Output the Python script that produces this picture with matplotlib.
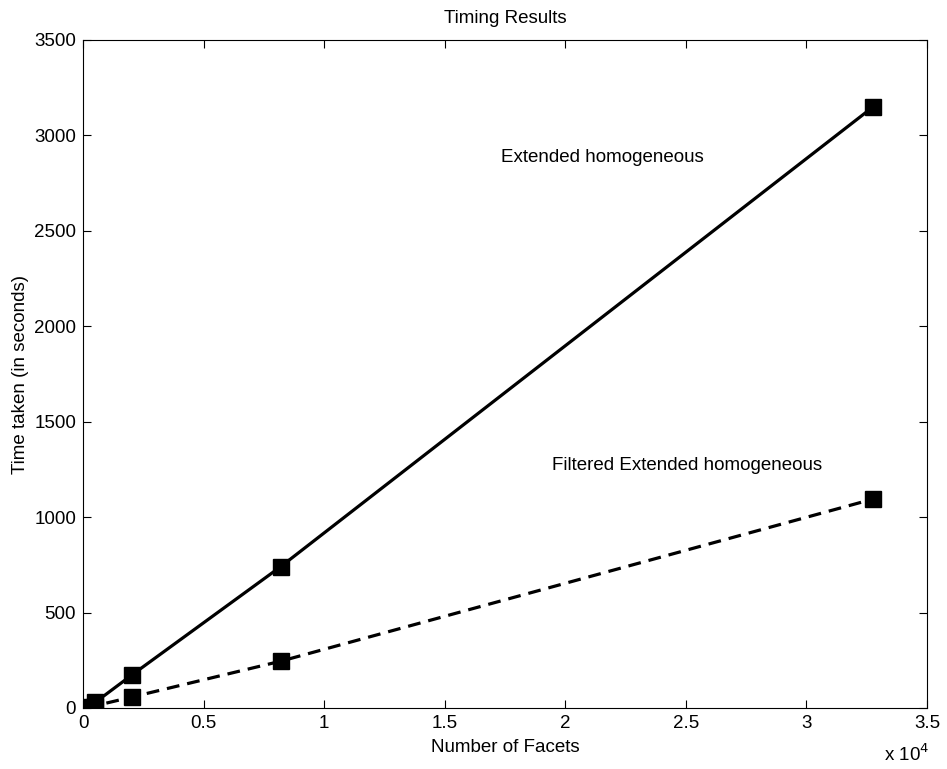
import matplotlib.pyplot as plt
import numpy as np

plt.rcParams['font.family'] = ['Liberation Sans', 'DejaVu Sans']
plt.rcParams['font.size'] = 13.5

# data
facets = [128, 512, 2048, 8192, 32768]
extended = [5, 30, 175, 740, 3150]
filtered = [2, 12, 58, 245, 1095]
xticks = [0, 5000, 10000, 15000, 20000, 25000, 30000, 35000]
xtick_labels = ['0', '0.5', '1', '1.5', '2', '2.5', '3', '3.5']
yticks = [0, 500, 1000, 1500, 2000, 2500, 3000, 3500]

fig = plt.figure(figsize=(9.47, 7.69), dpi=100)
ax = fig.add_axes([83 / 947, 1 - 708 / 769, 844 / 947, 668 / 769])

ax.plot(facets, extended, 'k-', lw=2.3, marker='s', markersize=12)
ax.plot(facets, filtered, 'k--', lw=2.3, marker='s', markersize=12, dashes=(4, 2.5))

ax.set_xlim(0, 35000)
ax.set_ylim(0, 3500)
ax.set_xticks(xticks)
ax.set_xticklabels(xtick_labels)
ax.set_yticks(yticks)
ax.tick_params(direction='in', length=6, width=0.8, top=True, right=True,
               labelsize=13.5, pad=5)
for s in ax.spines.values():
    s.set_linewidth(0.8)

ax.text(21525, 2886, 'Extended homogeneous', ha='center', va='center', fontsize=13.5)
ax.text(25050, 1268, 'Filtered Extended homogeneous', ha='center', va='center', fontsize=13.5)

ax.set_title('Timing Results', fontsize=13.5, pad=12)
ax.set_xlabel('Number of Facets', fontsize=13.5, labelpad=5)
ax.set_ylabel('Time taken (in seconds)', fontsize=13.5, labelpad=4)
# exponent label for the x axis
fig.text(884 / 947, 1 - 765 / 769, r'x 10$^4$', ha='left', va='bottom', fontsize=13.5)

fig.savefig('out.png', dpi=100)
